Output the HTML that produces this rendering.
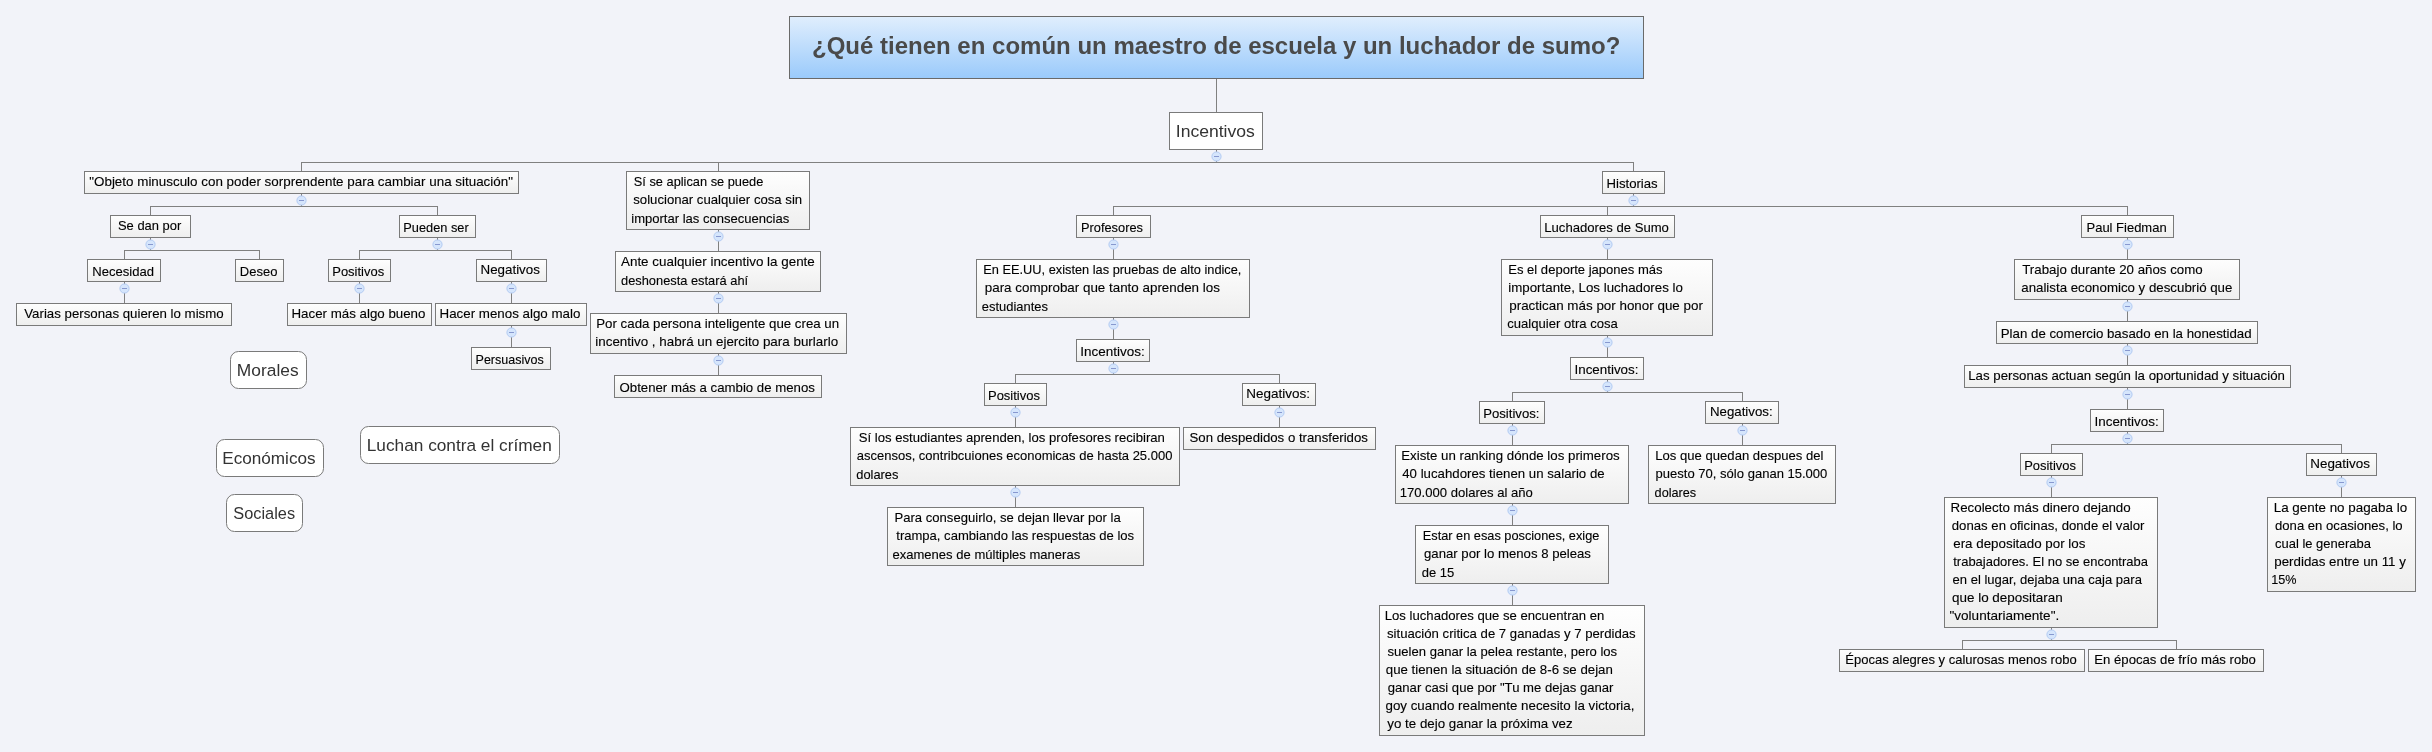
<!DOCTYPE html>
<html><head><meta charset="utf-8"><style>
html,body{margin:0;padding:0;width:2432px;height:752px;overflow:hidden;background:#f2f3f9;}
text{font-family:"Liberation Sans",sans-serif;}
</style></head><body>
<svg width="2432" height="752" viewBox="0 0 2432 752" style="position:absolute;left:0;top:0;will-change:transform">
<defs>
<linearGradient id="gs" x1="0" y1="0" x2="0" y2="1"><stop offset="0" stop-color="#fefefe"/><stop offset="1" stop-color="#eeeeee"/></linearGradient>
<linearGradient id="gt" x1="0" y1="0" x2="0" y2="1"><stop offset="0" stop-color="#e0eefd"/><stop offset="1" stop-color="#9acafb"/></linearGradient>
</defs>
<rect x="0" y="0" width="2432" height="752" fill="#f2f3f9"/>
<path d="M1216.5 79V112 M1216.5 150V162.5 M301 162.5H1634 M301.5 162.5V171 M718.5 162.5V171 M1633.5 162.5V171 M301.5 194V206.5 M150 206.5H438 M150.5 206.5V215 M437.5 206.5V215 M150.5 238V250.5 M124 250.5H260 M124.5 250.5V259 M259.5 250.5V259 M437.5 238V250.5 M359 250.5H512 M359.5 250.5V259 M511.5 250.5V259 M124.5 282V303 M359.5 282V303 M511.5 282V303 M511.5 326V347 M718.5 230V251 M718.5 292V313 M718.5 354V375 M1633.5 194V206.5 M1113 206.5H2128 M1113.5 206.5V215 M1607.5 206.5V215 M2127.5 206.5V215 M1113.5 238V259 M1113.5 318V339 M1113.5 362V374.5 M1015 374.5H1280 M1015.5 374.5V383 M1279.5 374.5V383 M1015.5 406V427 M1015.5 486V507 M1279.5 406V427 M1607.5 238V259 M1607.5 336V357 M1607.5 380V392.5 M1512 392.5H1743 M1512.5 392.5V401 M1742.5 392.5V401 M1512.5 424V445 M1512.5 504V525 M1512.5 584V605 M1742.5 424V445 M2127.5 238V259 M2127.5 300V321 M2127.5 344V365 M2127.5 388V409 M2127.5 432V444.5 M2051 444.5H2342 M2051.5 444.5V453 M2341.5 444.5V453 M2051.5 476V497 M2051.5 628V640.5 M1962 640.5H2177 M1962.5 640.5V649 M2176.5 640.5V649 M2341.5 476V497" stroke="#808080" stroke-width="1" fill="none"/>
<rect x="789.5" y="16.5" width="854" height="62" fill="url(#gt)" stroke="#6a6a6a"/>
<text x="811.98" y="53.80" font-family="Liberation Sans" font-size="23.5" font-weight="bold" fill="#4a4a4a" textLength="808.41" lengthAdjust="spacingAndGlyphs" xml:space="preserve">¿Qué tienen en común un maestro de escuela y un luchador de sumo?</text>
<rect x="1169.5" y="112.5" width="93" height="37" fill="#ffffff" stroke="#7a7a7a"/>
<text x="1175.78" y="137.00" font-family="Liberation Sans" font-size="17.2" font-weight="normal" fill="#333333" textLength="79.03" lengthAdjust="spacingAndGlyphs" xml:space="preserve">Incentivos</text>
<rect x="84.5" y="171.5" width="434" height="22" fill="url(#gs)" stroke="#7a7a7a"/>
<text x="89.25" y="185.80" font-family="Liberation Sans" font-size="13.3" font-weight="normal" fill="#000000" stroke="#000000" stroke-width="0.12" textLength="423.72" lengthAdjust="spacingAndGlyphs" xml:space="preserve">&quot;Objeto minusculo con poder sorprendente para cambiar una situación&quot;</text>
<rect x="626.5" y="171.5" width="183" height="58" fill="url(#gs)" stroke="#7a7a7a"/>
<text x="633.75" y="185.80" font-family="Liberation Sans" font-size="13.3" font-weight="normal" fill="#000000" stroke="#000000" stroke-width="0.12" textLength="129.63" lengthAdjust="spacingAndGlyphs" xml:space="preserve">Sí se aplican se puede</text>
<text x="633.25" y="204.30" font-family="Liberation Sans" font-size="13.3" font-weight="normal" fill="#000000" stroke="#000000" stroke-width="0.12" textLength="168.89" lengthAdjust="spacingAndGlyphs" xml:space="preserve">solucionar cualquier cosa sin</text>
<text x="631.25" y="222.80" font-family="Liberation Sans" font-size="13.3" font-weight="normal" fill="#000000" stroke="#000000" stroke-width="0.12" textLength="157.91" lengthAdjust="spacingAndGlyphs" xml:space="preserve">importar las consecuencias</text>
<rect x="1602.5" y="171.5" width="62" height="22" fill="url(#gs)" stroke="#7a7a7a"/>
<text x="1606.51" y="187.60" font-family="Liberation Sans" font-size="13.3" font-weight="normal" fill="#000000" stroke="#000000" stroke-width="0.12" textLength="51.14" lengthAdjust="spacingAndGlyphs" xml:space="preserve">Historias</text>
<rect x="110.5" y="215.5" width="80" height="22" fill="url(#gs)" stroke="#7a7a7a"/>
<text x="118.00" y="229.80" font-family="Liberation Sans" font-size="13.3" font-weight="normal" fill="#000000" stroke="#000000" stroke-width="0.12" textLength="63.19" lengthAdjust="spacingAndGlyphs" xml:space="preserve">Se dan por</text>
<rect x="399.5" y="215.5" width="76" height="22" fill="url(#gs)" stroke="#7a7a7a"/>
<text x="403.29" y="231.60" font-family="Liberation Sans" font-size="13.3" font-weight="normal" fill="#000000" stroke="#000000" stroke-width="0.12" textLength="65.41" lengthAdjust="spacingAndGlyphs" xml:space="preserve">Pueden ser</text>
<rect x="87.5" y="259.5" width="73" height="22" fill="url(#gs)" stroke="#7a7a7a"/>
<text x="92.27" y="275.60" font-family="Liberation Sans" font-size="13.3" font-weight="normal" fill="#000000" stroke="#000000" stroke-width="0.12" textLength="61.87" lengthAdjust="spacingAndGlyphs" xml:space="preserve">Necesidad</text>
<rect x="235.5" y="259.5" width="48" height="22" fill="url(#gs)" stroke="#7a7a7a"/>
<text x="239.77" y="275.60" font-family="Liberation Sans" font-size="13.3" font-weight="normal" fill="#000000" stroke="#000000" stroke-width="0.12" textLength="37.62" lengthAdjust="spacingAndGlyphs" xml:space="preserve">Deseo</text>
<rect x="328.5" y="259.5" width="62" height="22" fill="url(#gs)" stroke="#7a7a7a"/>
<text x="332.27" y="275.60" font-family="Liberation Sans" font-size="13.3" font-weight="normal" fill="#000000" stroke="#000000" stroke-width="0.12" textLength="51.88" lengthAdjust="spacingAndGlyphs" xml:space="preserve">Positivos</text>
<rect x="476.5" y="259.5" width="70" height="22" fill="url(#gs)" stroke="#7a7a7a"/>
<text x="480.50" y="273.80" font-family="Liberation Sans" font-size="13.3" font-weight="normal" fill="#000000" stroke="#000000" stroke-width="0.12" textLength="59.40" lengthAdjust="spacingAndGlyphs" xml:space="preserve">Negativos</text>
<rect x="16.5" y="303.5" width="215" height="22" fill="url(#gs)" stroke="#7a7a7a"/>
<text x="24.25" y="317.80" font-family="Liberation Sans" font-size="13.3" font-weight="normal" fill="#000000" stroke="#000000" stroke-width="0.12" textLength="199.39" lengthAdjust="spacingAndGlyphs" xml:space="preserve">Varias personas quieren lo mismo</text>
<rect x="287.5" y="303.5" width="144" height="22" fill="url(#gs)" stroke="#7a7a7a"/>
<text x="291.50" y="317.80" font-family="Liberation Sans" font-size="13.3" font-weight="normal" fill="#000000" stroke="#000000" stroke-width="0.12" textLength="133.90" lengthAdjust="spacingAndGlyphs" xml:space="preserve">Hacer más algo bueno</text>
<rect x="435.5" y="303.5" width="151" height="22" fill="url(#gs)" stroke="#7a7a7a"/>
<text x="439.50" y="317.80" font-family="Liberation Sans" font-size="13.3" font-weight="normal" fill="#000000" stroke="#000000" stroke-width="0.12" textLength="140.90" lengthAdjust="spacingAndGlyphs" xml:space="preserve">Hacer menos algo malo</text>
<rect x="471.5" y="347.5" width="79" height="22" fill="url(#gs)" stroke="#7a7a7a"/>
<text x="475.56" y="363.60" font-family="Liberation Sans" font-size="13.3" font-weight="normal" fill="#000000" stroke="#000000" stroke-width="0.12" textLength="68.11" lengthAdjust="spacingAndGlyphs" xml:space="preserve">Persuasivos</text>
<rect x="615.5" y="251.5" width="205" height="40" fill="url(#gs)" stroke="#7a7a7a"/>
<text x="621.00" y="266.00" font-family="Liberation Sans" font-size="13.3" font-weight="normal" fill="#000000" stroke="#000000" stroke-width="0.12" textLength="193.80" lengthAdjust="spacingAndGlyphs" xml:space="preserve">Ante cualquier incentivo la gente</text>
<text x="621.00" y="285.00" font-family="Liberation Sans" font-size="13.3" font-weight="normal" fill="#000000" stroke="#000000" stroke-width="0.12" textLength="127.10" lengthAdjust="spacingAndGlyphs" xml:space="preserve">deshonesta estará ahí</text>
<rect x="590.5" y="313.5" width="256" height="40" fill="url(#gs)" stroke="#7a7a7a"/>
<text x="596.25" y="327.80" font-family="Liberation Sans" font-size="13.3" font-weight="normal" fill="#000000" stroke="#000000" stroke-width="0.12" textLength="242.89" lengthAdjust="spacingAndGlyphs" xml:space="preserve">Por cada persona inteligente que crea un</text>
<text x="595.25" y="346.30" font-family="Liberation Sans" font-size="13.3" font-weight="normal" fill="#000000" stroke="#000000" stroke-width="0.12" textLength="242.90" lengthAdjust="spacingAndGlyphs" xml:space="preserve">incentivo , habrá un ejercito para burlarlo</text>
<rect x="614.5" y="375.5" width="207" height="22" fill="url(#gs)" stroke="#7a7a7a"/>
<text x="619.50" y="391.60" font-family="Liberation Sans" font-size="13.3" font-weight="normal" fill="#000000" stroke="#000000" stroke-width="0.12" textLength="195.40" lengthAdjust="spacingAndGlyphs" xml:space="preserve">Obtener más a cambio de menos</text>
<rect x="1076.5" y="215.5" width="74" height="22" fill="url(#gs)" stroke="#7a7a7a"/>
<text x="1081.04" y="231.60" font-family="Liberation Sans" font-size="13.3" font-weight="normal" fill="#000000" stroke="#000000" stroke-width="0.12" textLength="61.87" lengthAdjust="spacingAndGlyphs" xml:space="preserve">Profesores</text>
<rect x="976.5" y="259.5" width="273" height="58" fill="url(#gs)" stroke="#7a7a7a"/>
<text x="983.29" y="273.80" font-family="Liberation Sans" font-size="13.3" font-weight="normal" fill="#000000" stroke="#000000" stroke-width="0.12" textLength="258.13" lengthAdjust="spacingAndGlyphs" xml:space="preserve">En EE.UU, existen las pruebas de alto indice,</text>
<text x="984.75" y="292.30" font-family="Liberation Sans" font-size="13.3" font-weight="normal" fill="#000000" stroke="#000000" stroke-width="0.12" textLength="235.15" lengthAdjust="spacingAndGlyphs" xml:space="preserve">para comprobar que tanto aprenden los</text>
<text x="981.75" y="310.80" font-family="Liberation Sans" font-size="13.3" font-weight="normal" fill="#000000" stroke="#000000" stroke-width="0.12" textLength="66.16" lengthAdjust="spacingAndGlyphs" xml:space="preserve">estudiantes</text>
<rect x="1076.5" y="339.5" width="73" height="22" fill="url(#gs)" stroke="#7a7a7a"/>
<text x="1080.24" y="355.60" font-family="Liberation Sans" font-size="13.3" font-weight="normal" fill="#000000" stroke="#000000" stroke-width="0.12" textLength="64.47" lengthAdjust="spacingAndGlyphs" xml:space="preserve">Incentivos:</text>
<rect x="984.5" y="383.5" width="62" height="22" fill="url(#gs)" stroke="#7a7a7a"/>
<text x="988.02" y="399.60" font-family="Liberation Sans" font-size="13.3" font-weight="normal" fill="#000000" stroke="#000000" stroke-width="0.12" textLength="51.88" lengthAdjust="spacingAndGlyphs" xml:space="preserve">Positivos</text>
<rect x="1242.5" y="383.5" width="73" height="22" fill="url(#gs)" stroke="#7a7a7a"/>
<text x="1246.24" y="397.80" font-family="Liberation Sans" font-size="13.3" font-weight="normal" fill="#000000" stroke="#000000" stroke-width="0.12" textLength="63.72" lengthAdjust="spacingAndGlyphs" xml:space="preserve">Negativos:</text>
<rect x="850.5" y="427.5" width="329" height="58" fill="url(#gs)" stroke="#7a7a7a"/>
<text x="858.75" y="441.80" font-family="Liberation Sans" font-size="13.3" font-weight="normal" fill="#000000" stroke="#000000" stroke-width="0.12" textLength="306.14" lengthAdjust="spacingAndGlyphs" xml:space="preserve">Sí los estudiantes aprenden, los profesores recibiran</text>
<text x="856.75" y="460.30" font-family="Liberation Sans" font-size="13.3" font-weight="normal" fill="#000000" stroke="#000000" stroke-width="0.12" textLength="315.64" lengthAdjust="spacingAndGlyphs" xml:space="preserve">ascensos, contribcuiones economicas de hasta 25.000</text>
<text x="856.25" y="478.80" font-family="Liberation Sans" font-size="13.3" font-weight="normal" fill="#000000" stroke="#000000" stroke-width="0.12" textLength="42.16" lengthAdjust="spacingAndGlyphs" xml:space="preserve">dolares</text>
<rect x="887.5" y="507.5" width="256" height="58" fill="url(#gs)" stroke="#7a7a7a"/>
<text x="894.52" y="521.80" font-family="Liberation Sans" font-size="13.3" font-weight="normal" fill="#000000" stroke="#000000" stroke-width="0.12" textLength="226.14" lengthAdjust="spacingAndGlyphs" xml:space="preserve">Para conseguirlo, se dejan llevar por la</text>
<text x="896.25" y="540.30" font-family="Liberation Sans" font-size="13.3" font-weight="normal" fill="#000000" stroke="#000000" stroke-width="0.12" textLength="237.90" lengthAdjust="spacingAndGlyphs" xml:space="preserve">trampa, cambiando las respuestas de los</text>
<text x="892.50" y="558.80" font-family="Liberation Sans" font-size="13.3" font-weight="normal" fill="#000000" stroke="#000000" stroke-width="0.12" textLength="187.66" lengthAdjust="spacingAndGlyphs" xml:space="preserve">examenes de múltiples maneras</text>
<rect x="1183.5" y="427.5" width="192" height="22" fill="url(#gs)" stroke="#7a7a7a"/>
<text x="1189.50" y="441.80" font-family="Liberation Sans" font-size="13.3" font-weight="normal" fill="#000000" stroke="#000000" stroke-width="0.12" textLength="178.40" lengthAdjust="spacingAndGlyphs" xml:space="preserve">Son despedidos o transferidos</text>
<rect x="1540.5" y="215.5" width="134" height="22" fill="url(#gs)" stroke="#7a7a7a"/>
<text x="1544.26" y="231.60" font-family="Liberation Sans" font-size="13.3" font-weight="normal" fill="#000000" stroke="#000000" stroke-width="0.12" textLength="124.63" lengthAdjust="spacingAndGlyphs" xml:space="preserve">Luchadores de Sumo</text>
<rect x="1501.5" y="259.5" width="211" height="76" fill="url(#gs)" stroke="#7a7a7a"/>
<text x="1508.27" y="273.80" font-family="Liberation Sans" font-size="13.3" font-weight="normal" fill="#000000" stroke="#000000" stroke-width="0.12" textLength="154.39" lengthAdjust="spacingAndGlyphs" xml:space="preserve">Es el deporte japones más</text>
<text x="1508.25" y="291.90" font-family="Liberation Sans" font-size="13.3" font-weight="normal" fill="#000000" stroke="#000000" stroke-width="0.12" textLength="174.65" lengthAdjust="spacingAndGlyphs" xml:space="preserve">importante, Los luchadores lo</text>
<text x="1509.25" y="310.00" font-family="Liberation Sans" font-size="13.3" font-weight="normal" fill="#000000" stroke="#000000" stroke-width="0.12" textLength="193.67" lengthAdjust="spacingAndGlyphs" xml:space="preserve">practican más por honor que por</text>
<text x="1507.25" y="328.10" font-family="Liberation Sans" font-size="13.3" font-weight="normal" fill="#000000" stroke="#000000" stroke-width="0.12" textLength="110.65" lengthAdjust="spacingAndGlyphs" xml:space="preserve">cualquier otra cosa</text>
<rect x="1570.5" y="357.5" width="73" height="22" fill="url(#gs)" stroke="#7a7a7a"/>
<text x="1574.49" y="373.60" font-family="Liberation Sans" font-size="13.3" font-weight="normal" fill="#000000" stroke="#000000" stroke-width="0.12" textLength="63.95" lengthAdjust="spacingAndGlyphs" xml:space="preserve">Incentivos:</text>
<rect x="1479.5" y="401.5" width="65" height="22" fill="url(#gs)" stroke="#7a7a7a"/>
<text x="1483.26" y="417.60" font-family="Liberation Sans" font-size="13.3" font-weight="normal" fill="#000000" stroke="#000000" stroke-width="0.12" textLength="56.17" lengthAdjust="spacingAndGlyphs" xml:space="preserve">Positivos:</text>
<rect x="1705.5" y="401.5" width="73" height="22" fill="url(#gs)" stroke="#7a7a7a"/>
<text x="1709.90" y="415.80" font-family="Liberation Sans" font-size="13.3" font-weight="normal" fill="#000000" stroke="#000000" stroke-width="0.12" textLength="62.79" lengthAdjust="spacingAndGlyphs" xml:space="preserve">Negativos:</text>
<rect x="1395.5" y="445.5" width="233" height="58" fill="url(#gs)" stroke="#7a7a7a"/>
<text x="1401.25" y="459.80" font-family="Liberation Sans" font-size="13.3" font-weight="normal" fill="#000000" stroke="#000000" stroke-width="0.12" textLength="218.40" lengthAdjust="spacingAndGlyphs" xml:space="preserve">Existe un ranking dónde los primeros</text>
<text x="1402.25" y="478.30" font-family="Liberation Sans" font-size="13.3" font-weight="normal" fill="#000000" stroke="#000000" stroke-width="0.12" textLength="202.39" lengthAdjust="spacingAndGlyphs" xml:space="preserve">40 lucahdores tienen un salario de</text>
<text x="1399.77" y="496.80" font-family="Liberation Sans" font-size="13.3" font-weight="normal" fill="#000000" stroke="#000000" stroke-width="0.12" textLength="133.12" lengthAdjust="spacingAndGlyphs" xml:space="preserve">170.000 dolares al año</text>
<rect x="1415.5" y="525.5" width="193" height="58" fill="url(#gs)" stroke="#7a7a7a"/>
<text x="1422.74" y="539.80" font-family="Liberation Sans" font-size="13.3" font-weight="normal" fill="#000000" stroke="#000000" stroke-width="0.12" textLength="176.64" lengthAdjust="spacingAndGlyphs" xml:space="preserve">Estar en esas posciones, exige</text>
<text x="1424.00" y="558.30" font-family="Liberation Sans" font-size="13.3" font-weight="normal" fill="#000000" stroke="#000000" stroke-width="0.12" textLength="166.95" lengthAdjust="spacingAndGlyphs" xml:space="preserve">ganar por lo menos 8 peleas</text>
<text x="1421.70" y="576.80" font-family="Liberation Sans" font-size="13.3" font-weight="normal" fill="#000000" stroke="#000000" stroke-width="0.12" textLength="32.59" lengthAdjust="spacingAndGlyphs" xml:space="preserve">de 15</text>
<rect x="1379.5" y="605.5" width="265" height="130" fill="url(#gs)" stroke="#7a7a7a"/>
<text x="1384.76" y="619.80" font-family="Liberation Sans" font-size="13.3" font-weight="normal" fill="#000000" stroke="#000000" stroke-width="0.12" textLength="219.63" lengthAdjust="spacingAndGlyphs" xml:space="preserve">Los luchadores que se encuentran en</text>
<text x="1387.00" y="637.90" font-family="Liberation Sans" font-size="13.3" font-weight="normal" fill="#000000" stroke="#000000" stroke-width="0.12" textLength="248.65" lengthAdjust="spacingAndGlyphs" xml:space="preserve">situación critica de 7 ganadas y 7 perdidas</text>
<text x="1387.50" y="656.00" font-family="Liberation Sans" font-size="13.3" font-weight="normal" fill="#000000" stroke="#000000" stroke-width="0.12" textLength="229.65" lengthAdjust="spacingAndGlyphs" xml:space="preserve">suelen ganar la pelea restante, pero los</text>
<text x="1385.75" y="674.10" font-family="Liberation Sans" font-size="13.3" font-weight="normal" fill="#000000" stroke="#000000" stroke-width="0.12" textLength="227.14" lengthAdjust="spacingAndGlyphs" xml:space="preserve">que tienen la situación de 8-6 se dejan</text>
<text x="1387.75" y="692.20" font-family="Liberation Sans" font-size="13.3" font-weight="normal" fill="#000000" stroke="#000000" stroke-width="0.12" textLength="225.69" lengthAdjust="spacingAndGlyphs" xml:space="preserve">ganar casi que por &quot;Tu me dejas ganar</text>
<text x="1385.50" y="710.30" font-family="Liberation Sans" font-size="13.3" font-weight="normal" fill="#000000" stroke="#000000" stroke-width="0.12" textLength="248.95" lengthAdjust="spacingAndGlyphs" xml:space="preserve">goy cuando realmente necesito la victoria,</text>
<text x="1387.25" y="728.40" font-family="Liberation Sans" font-size="13.3" font-weight="normal" fill="#000000" stroke="#000000" stroke-width="0.12" textLength="185.40" lengthAdjust="spacingAndGlyphs" xml:space="preserve">yo te dejo ganar la próxima vez</text>
<rect x="1648.5" y="445.5" width="187" height="58" fill="url(#gs)" stroke="#7a7a7a"/>
<text x="1655.32" y="459.80" font-family="Liberation Sans" font-size="13.3" font-weight="normal" fill="#000000" stroke="#000000" stroke-width="0.12" textLength="168.14" lengthAdjust="spacingAndGlyphs" xml:space="preserve">Los que quedan despues del</text>
<text x="1655.60" y="478.30" font-family="Liberation Sans" font-size="13.3" font-weight="normal" fill="#000000" stroke="#000000" stroke-width="0.12" textLength="171.79" lengthAdjust="spacingAndGlyphs" xml:space="preserve">puesto 70, sólo ganan 15.000</text>
<text x="1654.60" y="496.80" font-family="Liberation Sans" font-size="13.3" font-weight="normal" fill="#000000" stroke="#000000" stroke-width="0.12" textLength="41.56" lengthAdjust="spacingAndGlyphs" xml:space="preserve">dolares</text>
<rect x="2081.5" y="215.5" width="92" height="22" fill="url(#gs)" stroke="#7a7a7a"/>
<text x="2086.52" y="231.60" font-family="Liberation Sans" font-size="13.3" font-weight="normal" fill="#000000" stroke="#000000" stroke-width="0.12" textLength="80.11" lengthAdjust="spacingAndGlyphs" xml:space="preserve">Paul Fiedman</text>
<rect x="2014.5" y="259.5" width="225" height="40" fill="url(#gs)" stroke="#7a7a7a"/>
<text x="2022.25" y="273.80" font-family="Liberation Sans" font-size="13.3" font-weight="normal" fill="#000000" stroke="#000000" stroke-width="0.12" textLength="180.39" lengthAdjust="spacingAndGlyphs" xml:space="preserve">Trabajo durante 20 años como</text>
<text x="2021.25" y="292.30" font-family="Liberation Sans" font-size="13.3" font-weight="normal" fill="#000000" stroke="#000000" stroke-width="0.12" textLength="211.14" lengthAdjust="spacingAndGlyphs" xml:space="preserve">analista economico y descubrió que</text>
<rect x="1996.5" y="321.5" width="261" height="22" fill="url(#gs)" stroke="#7a7a7a"/>
<text x="2000.75" y="337.60" font-family="Liberation Sans" font-size="13.3" font-weight="normal" fill="#000000" stroke="#000000" stroke-width="0.12" textLength="250.89" lengthAdjust="spacingAndGlyphs" xml:space="preserve">Plan de comercio basado en la honestidad</text>
<rect x="1964.5" y="365.5" width="326" height="22" fill="url(#gs)" stroke="#7a7a7a"/>
<text x="1968.25" y="379.80" font-family="Liberation Sans" font-size="13.3" font-weight="normal" fill="#000000" stroke="#000000" stroke-width="0.12" textLength="316.64" lengthAdjust="spacingAndGlyphs" xml:space="preserve">Las personas actuan según la oportunidad y situación</text>
<rect x="2090.5" y="409.5" width="73" height="22" fill="url(#gs)" stroke="#7a7a7a"/>
<text x="2094.49" y="425.60" font-family="Liberation Sans" font-size="13.3" font-weight="normal" fill="#000000" stroke="#000000" stroke-width="0.12" textLength="64.21" lengthAdjust="spacingAndGlyphs" xml:space="preserve">Incentivos:</text>
<rect x="2020.5" y="453.5" width="62" height="22" fill="url(#gs)" stroke="#7a7a7a"/>
<text x="2024.28" y="469.60" font-family="Liberation Sans" font-size="13.3" font-weight="normal" fill="#000000" stroke="#000000" stroke-width="0.12" textLength="51.63" lengthAdjust="spacingAndGlyphs" xml:space="preserve">Positivos</text>
<rect x="2306.5" y="453.5" width="70" height="22" fill="url(#gs)" stroke="#7a7a7a"/>
<text x="2310.24" y="467.80" font-family="Liberation Sans" font-size="13.3" font-weight="normal" fill="#000000" stroke="#000000" stroke-width="0.12" textLength="59.65" lengthAdjust="spacingAndGlyphs" xml:space="preserve">Negativos</text>
<rect x="1944.5" y="497.5" width="213" height="130" fill="url(#gs)" stroke="#7a7a7a"/>
<text x="1950.50" y="511.80" font-family="Liberation Sans" font-size="13.3" font-weight="normal" fill="#000000" stroke="#000000" stroke-width="0.12" textLength="180.15" lengthAdjust="spacingAndGlyphs" xml:space="preserve">Recolecto más dinero dejando</text>
<text x="1951.75" y="529.90" font-family="Liberation Sans" font-size="13.3" font-weight="normal" fill="#000000" stroke="#000000" stroke-width="0.12" textLength="192.68" lengthAdjust="spacingAndGlyphs" xml:space="preserve">donas en oficinas, donde el valor</text>
<text x="1953.25" y="548.00" font-family="Liberation Sans" font-size="13.3" font-weight="normal" fill="#000000" stroke="#000000" stroke-width="0.12" textLength="132.15" lengthAdjust="spacingAndGlyphs" xml:space="preserve">era depositado por los</text>
<text x="1953.25" y="566.10" font-family="Liberation Sans" font-size="13.3" font-weight="normal" fill="#000000" stroke="#000000" stroke-width="0.12" textLength="194.66" lengthAdjust="spacingAndGlyphs" xml:space="preserve">trabajadores. El no se encontraba</text>
<text x="1952.50" y="584.20" font-family="Liberation Sans" font-size="13.3" font-weight="normal" fill="#000000" stroke="#000000" stroke-width="0.12" textLength="189.41" lengthAdjust="spacingAndGlyphs" xml:space="preserve">en el lugar, dejaba una caja para</text>
<text x="1952.00" y="602.30" font-family="Liberation Sans" font-size="13.3" font-weight="normal" fill="#000000" stroke="#000000" stroke-width="0.12" textLength="110.65" lengthAdjust="spacingAndGlyphs" xml:space="preserve">que lo depositaran</text>
<text x="1949.50" y="620.40" font-family="Liberation Sans" font-size="13.3" font-weight="normal" fill="#000000" stroke="#000000" stroke-width="0.12" textLength="109.71" lengthAdjust="spacingAndGlyphs" xml:space="preserve">&quot;voluntariamente&quot;.</text>
<rect x="1839.5" y="649.5" width="245" height="22" fill="url(#gs)" stroke="#7a7a7a"/>
<text x="1845.27" y="663.80" font-family="Liberation Sans" font-size="13.3" font-weight="normal" fill="#000000" stroke="#000000" stroke-width="0.12" textLength="231.36" lengthAdjust="spacingAndGlyphs" xml:space="preserve">Épocas alegres y calurosas menos robo</text>
<rect x="2088.5" y="649.5" width="175" height="22" fill="url(#gs)" stroke="#7a7a7a"/>
<text x="2094.26" y="663.80" font-family="Liberation Sans" font-size="13.3" font-weight="normal" fill="#000000" stroke="#000000" stroke-width="0.12" textLength="161.63" lengthAdjust="spacingAndGlyphs" xml:space="preserve">En épocas de frío más robo</text>
<rect x="2267.5" y="497.5" width="148" height="94" fill="url(#gs)" stroke="#7a7a7a"/>
<text x="2273.74" y="511.80" font-family="Liberation Sans" font-size="13.3" font-weight="normal" fill="#000000" stroke="#000000" stroke-width="0.12" textLength="133.41" lengthAdjust="spacingAndGlyphs" xml:space="preserve">La gente no pagaba lo</text>
<text x="2275.00" y="529.90" font-family="Liberation Sans" font-size="13.3" font-weight="normal" fill="#000000" stroke="#000000" stroke-width="0.12" textLength="127.64" lengthAdjust="spacingAndGlyphs" xml:space="preserve">dona en ocasiones, lo</text>
<text x="2275.00" y="548.00" font-family="Liberation Sans" font-size="13.3" font-weight="normal" fill="#000000" stroke="#000000" stroke-width="0.12" textLength="95.91" lengthAdjust="spacingAndGlyphs" xml:space="preserve">cual le generaba</text>
<text x="2274.25" y="566.10" font-family="Liberation Sans" font-size="13.3" font-weight="normal" fill="#000000" stroke="#000000" stroke-width="0.12" textLength="131.65" lengthAdjust="spacingAndGlyphs" xml:space="preserve">perdidas entre un 11 y</text>
<text x="2271.30" y="584.20" font-family="Liberation Sans" font-size="13.3" font-weight="normal" fill="#000000" stroke="#000000" stroke-width="0.12" textLength="25.28" lengthAdjust="spacingAndGlyphs" xml:space="preserve">15%</text>
<rect x="230.5" y="351.5" width="76" height="37" rx="8" fill="#ffffff" stroke="#7a7a7a"/>
<text x="236.89" y="376.00" font-family="Liberation Sans" font-size="17.2" font-weight="normal" fill="#333333" textLength="61.71" lengthAdjust="spacingAndGlyphs" xml:space="preserve">Morales</text>
<rect x="216.5" y="439.5" width="107" height="37" rx="8" fill="#ffffff" stroke="#7a7a7a"/>
<text x="222.25" y="464.25" font-family="Liberation Sans" font-size="17.2" font-weight="normal" fill="#333333" textLength="93.34" lengthAdjust="spacingAndGlyphs" xml:space="preserve">Económicos</text>
<rect x="226.5" y="494.5" width="76" height="37" rx="8" fill="#ffffff" stroke="#7a7a7a"/>
<text x="233.25" y="519.00" font-family="Liberation Sans" font-size="17.2" font-weight="normal" fill="#333333" textLength="61.81" lengthAdjust="spacingAndGlyphs" xml:space="preserve">Sociales</text>
<rect x="360.5" y="426.5" width="199" height="37" rx="8" fill="#ffffff" stroke="#7a7a7a"/>
<text x="366.75" y="451.25" font-family="Liberation Sans" font-size="17.2" font-weight="normal" fill="#333333" textLength="185.06" lengthAdjust="spacingAndGlyphs" xml:space="preserve">Luchan contra el crímen</text>
<circle cx="1216.5" cy="156.5" r="4.6" fill="#d5e5fc" stroke="#b3cbf3" stroke-width="1"/>
<path d="M1214.0 156.5H1219.0" stroke="#8798cf" stroke-width="1"/>
<circle cx="301.5" cy="200.5" r="4.6" fill="#d5e5fc" stroke="#b3cbf3" stroke-width="1"/>
<path d="M299.0 200.5H304.0" stroke="#8798cf" stroke-width="1"/>
<circle cx="150.5" cy="244.5" r="4.6" fill="#d5e5fc" stroke="#b3cbf3" stroke-width="1"/>
<path d="M148.0 244.5H153.0" stroke="#8798cf" stroke-width="1"/>
<circle cx="437.5" cy="244.5" r="4.6" fill="#d5e5fc" stroke="#b3cbf3" stroke-width="1"/>
<path d="M435.0 244.5H440.0" stroke="#8798cf" stroke-width="1"/>
<circle cx="124.5" cy="288.5" r="4.6" fill="#d5e5fc" stroke="#b3cbf3" stroke-width="1"/>
<path d="M122.0 288.5H127.0" stroke="#8798cf" stroke-width="1"/>
<circle cx="359.5" cy="288.5" r="4.6" fill="#d5e5fc" stroke="#b3cbf3" stroke-width="1"/>
<path d="M357.0 288.5H362.0" stroke="#8798cf" stroke-width="1"/>
<circle cx="511.5" cy="288.5" r="4.6" fill="#d5e5fc" stroke="#b3cbf3" stroke-width="1"/>
<path d="M509.0 288.5H514.0" stroke="#8798cf" stroke-width="1"/>
<circle cx="511.5" cy="332.5" r="4.6" fill="#d5e5fc" stroke="#b3cbf3" stroke-width="1"/>
<path d="M509.0 332.5H514.0" stroke="#8798cf" stroke-width="1"/>
<circle cx="718.5" cy="236.5" r="4.6" fill="#d5e5fc" stroke="#b3cbf3" stroke-width="1"/>
<path d="M716.0 236.5H721.0" stroke="#8798cf" stroke-width="1"/>
<circle cx="718.5" cy="298.5" r="4.6" fill="#d5e5fc" stroke="#b3cbf3" stroke-width="1"/>
<path d="M716.0 298.5H721.0" stroke="#8798cf" stroke-width="1"/>
<circle cx="718.5" cy="360.5" r="4.6" fill="#d5e5fc" stroke="#b3cbf3" stroke-width="1"/>
<path d="M716.0 360.5H721.0" stroke="#8798cf" stroke-width="1"/>
<circle cx="1633.5" cy="200.5" r="4.6" fill="#d5e5fc" stroke="#b3cbf3" stroke-width="1"/>
<path d="M1631.0 200.5H1636.0" stroke="#8798cf" stroke-width="1"/>
<circle cx="1113.5" cy="244.5" r="4.6" fill="#d5e5fc" stroke="#b3cbf3" stroke-width="1"/>
<path d="M1111.0 244.5H1116.0" stroke="#8798cf" stroke-width="1"/>
<circle cx="1113.5" cy="324.5" r="4.6" fill="#d5e5fc" stroke="#b3cbf3" stroke-width="1"/>
<path d="M1111.0 324.5H1116.0" stroke="#8798cf" stroke-width="1"/>
<circle cx="1113.5" cy="368.5" r="4.6" fill="#d5e5fc" stroke="#b3cbf3" stroke-width="1"/>
<path d="M1111.0 368.5H1116.0" stroke="#8798cf" stroke-width="1"/>
<circle cx="1015.5" cy="412.5" r="4.6" fill="#d5e5fc" stroke="#b3cbf3" stroke-width="1"/>
<path d="M1013.0 412.5H1018.0" stroke="#8798cf" stroke-width="1"/>
<circle cx="1015.5" cy="492.5" r="4.6" fill="#d5e5fc" stroke="#b3cbf3" stroke-width="1"/>
<path d="M1013.0 492.5H1018.0" stroke="#8798cf" stroke-width="1"/>
<circle cx="1279.5" cy="412.5" r="4.6" fill="#d5e5fc" stroke="#b3cbf3" stroke-width="1"/>
<path d="M1277.0 412.5H1282.0" stroke="#8798cf" stroke-width="1"/>
<circle cx="1607.5" cy="244.5" r="4.6" fill="#d5e5fc" stroke="#b3cbf3" stroke-width="1"/>
<path d="M1605.0 244.5H1610.0" stroke="#8798cf" stroke-width="1"/>
<circle cx="1607.5" cy="342.5" r="4.6" fill="#d5e5fc" stroke="#b3cbf3" stroke-width="1"/>
<path d="M1605.0 342.5H1610.0" stroke="#8798cf" stroke-width="1"/>
<circle cx="1607.5" cy="386.5" r="4.6" fill="#d5e5fc" stroke="#b3cbf3" stroke-width="1"/>
<path d="M1605.0 386.5H1610.0" stroke="#8798cf" stroke-width="1"/>
<circle cx="1512.5" cy="430.5" r="4.6" fill="#d5e5fc" stroke="#b3cbf3" stroke-width="1"/>
<path d="M1510.0 430.5H1515.0" stroke="#8798cf" stroke-width="1"/>
<circle cx="1512.5" cy="510.5" r="4.6" fill="#d5e5fc" stroke="#b3cbf3" stroke-width="1"/>
<path d="M1510.0 510.5H1515.0" stroke="#8798cf" stroke-width="1"/>
<circle cx="1512.5" cy="590.5" r="4.6" fill="#d5e5fc" stroke="#b3cbf3" stroke-width="1"/>
<path d="M1510.0 590.5H1515.0" stroke="#8798cf" stroke-width="1"/>
<circle cx="1742.5" cy="430.5" r="4.6" fill="#d5e5fc" stroke="#b3cbf3" stroke-width="1"/>
<path d="M1740.0 430.5H1745.0" stroke="#8798cf" stroke-width="1"/>
<circle cx="2127.5" cy="244.5" r="4.6" fill="#d5e5fc" stroke="#b3cbf3" stroke-width="1"/>
<path d="M2125.0 244.5H2130.0" stroke="#8798cf" stroke-width="1"/>
<circle cx="2127.5" cy="306.5" r="4.6" fill="#d5e5fc" stroke="#b3cbf3" stroke-width="1"/>
<path d="M2125.0 306.5H2130.0" stroke="#8798cf" stroke-width="1"/>
<circle cx="2127.5" cy="350.5" r="4.6" fill="#d5e5fc" stroke="#b3cbf3" stroke-width="1"/>
<path d="M2125.0 350.5H2130.0" stroke="#8798cf" stroke-width="1"/>
<circle cx="2127.5" cy="394.5" r="4.6" fill="#d5e5fc" stroke="#b3cbf3" stroke-width="1"/>
<path d="M2125.0 394.5H2130.0" stroke="#8798cf" stroke-width="1"/>
<circle cx="2127.5" cy="438.5" r="4.6" fill="#d5e5fc" stroke="#b3cbf3" stroke-width="1"/>
<path d="M2125.0 438.5H2130.0" stroke="#8798cf" stroke-width="1"/>
<circle cx="2051.5" cy="482.5" r="4.6" fill="#d5e5fc" stroke="#b3cbf3" stroke-width="1"/>
<path d="M2049.0 482.5H2054.0" stroke="#8798cf" stroke-width="1"/>
<circle cx="2051.5" cy="634.5" r="4.6" fill="#d5e5fc" stroke="#b3cbf3" stroke-width="1"/>
<path d="M2049.0 634.5H2054.0" stroke="#8798cf" stroke-width="1"/>
<circle cx="2341.5" cy="482.5" r="4.6" fill="#d5e5fc" stroke="#b3cbf3" stroke-width="1"/>
<path d="M2339.0 482.5H2344.0" stroke="#8798cf" stroke-width="1"/>
</svg>
</body></html>
